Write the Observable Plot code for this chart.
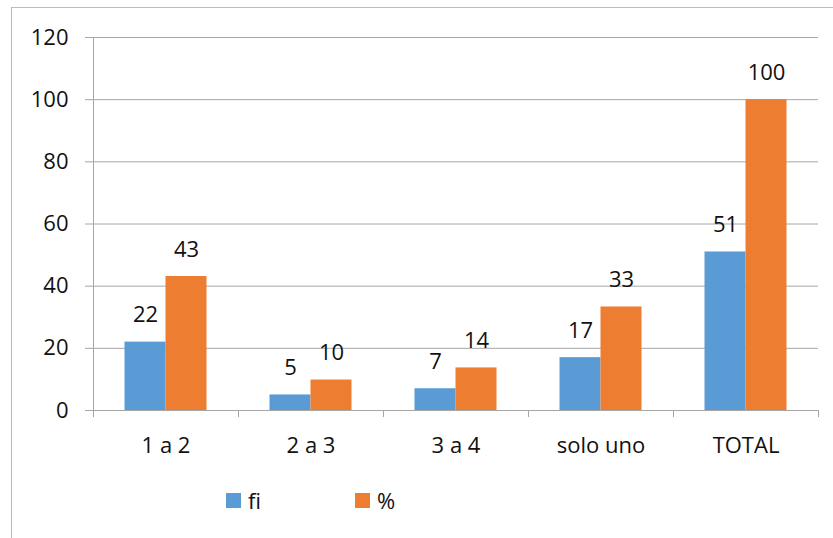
<!DOCTYPE html>
<html>
<head>
<meta charset="utf-8">
<script src="https://cdn.jsdelivr.net/npm/d3@7"></script>
<script src="https://cdn.jsdelivr.net/npm/@observablehq/plot@0.6"></script>
<style>
  html, body { margin: 0; padding: 0; background: #fff; }
  #wrap { position: relative; width: 833px; height: 538px; overflow: hidden; font-family: "Open Sans", sans-serif; }
  #border { position: absolute; left: 11px; top: 7px; right: -5px; bottom: -5px; border-left: 1px solid #bcbcbc; border-top: 1px solid #bcbcbc; }
  #chart { position: absolute; left: 0; top: 0; }
  .legend { position: absolute; top: 485px; display: flex; align-items: center; font-size: 22px; color: #111; }
  .sw { width: 15px; height: 15px; display: inline-block; margin-right: 7px; }
</style>
</head>
<body>
<div id="wrap">
  <div id="border"></div>
  <div id="chart"></div>
  <div class="legend" style="left:226px"><span class="sw" style="background:#5B9BD5"></span>fi</div>
  <div class="legend" style="left:355px"><span class="sw" style="background:#ED7D31"></span>%</div>
</div>
<script>
const categories = ["1 a 2", "2 a 3", "3 a 4", "solo uno", "TOTAL"];
const fi = [22, 5, 7, 17, 51];
const pct = [43.1, 9.8, 13.7, 33.3, 100];
const yTicks = [0, 20, 40, 60, 80, 100, 120];

const rows = categories.map((c, i) => ({cat: c, fi: fi[i], pct: pct[i]}));
const firstCat = [categories[0]];
const lastCat = [categories[categories.length - 1]];
const grid = "#a6a6a6";
const txt = "#111";

const chart = Plot.plot({
  width: 833,
  height: 470,
  marginLeft: 93,
  marginRight: 15,
  marginTop: 37,
  marginBottom: 60,
  style: {fontFamily: "Open Sans, sans-serif", fontSize: "22px", color: txt, background: "transparent", overflow: "visible"},
  x: {domain: categories, padding: 0},
  y: {domain: [0, 120]},
  marks: [
    Plot.gridY(yTicks, {stroke: grid, strokeOpacity: 1, strokeWidth: 1}),
    Plot.barY(rows, {x: "cat", y: "fi", fill: "#5B9BD5", insetLeft: 31.5, insetRight: 72.5}),
    Plot.barY(rows, {x: "cat", y: "pct", fill: "#ED7D31", insetLeft: 72.5, insetRight: 31.5}),
    Plot.text(rows, {x: "cat", y: "fi", text: d => d3.format(".0f")(d.fi), dx: -20.5, dy: -27, lineAnchor: "middle", fill: txt, fontSize: 22}),
    Plot.text(rows, {x: "cat", y: "pct", text: d => d3.format(".0f")(d.pct), dx: 20.5, dy: -27, lineAnchor: "middle", fill: txt, fontSize: 22}),
    Plot.ruleY([0], {stroke: grid, strokeWidth: 1}),
    Plot.ruleX(categories, {x: d => d, y1: 0, y2: 0, dx: -72.5, insetBottom: -7, stroke: grid, strokeWidth: 1}),
    Plot.ruleX(lastCat, {x: d => d, y1: 0, y2: 0, dx: 72.5, insetBottom: -7, stroke: grid, strokeWidth: 1}),
    Plot.ruleX(firstCat, {x: d => d, y1: 0, y2: 120, dx: -72.5, stroke: grid, strokeWidth: 1}),
    Plot.axisY({ticks: yTicks, tickSize: 8, tickPadding: 17, stroke: grid, strokeOpacity: 1, fill: txt, label: null, tickFormat: d3.format("d")}),
    Plot.axisX({tickSize: 0, tickPadding: 27, fill: txt, label: null})
  ]
});
document.getElementById("chart").appendChild(chart);
</script>
</body>
</html>
